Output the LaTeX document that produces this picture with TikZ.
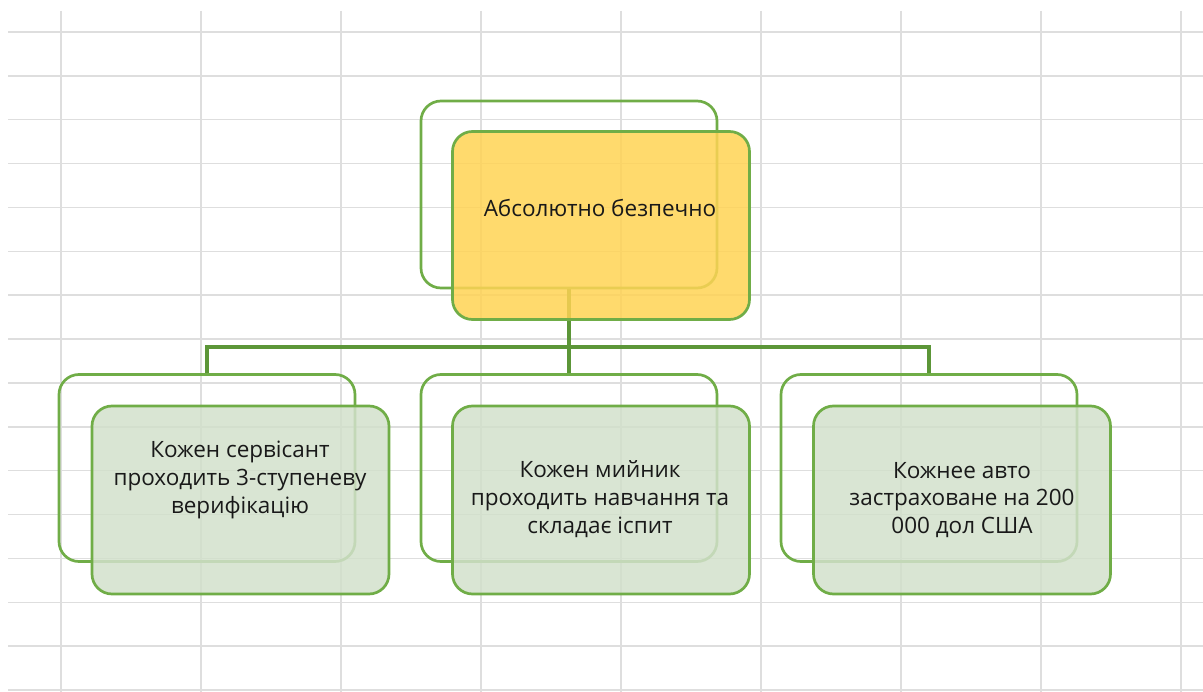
\documentclass[tikz,border=0pt]{standalone}
\usepackage{fontspec}
\setmainfont{Open Sans}
\definecolor{gridgray}{RGB}{222,222,222}
\definecolor{boxline}{RGB}{112,173,71}
\definecolor{linkline}{RGB}{92,150,56}
\definecolor{topfill}{RGB}{255,211,84}
\definecolor{leaffill}{RGB}{210,224,203}
\definecolor{inkgray}{RGB}{25,25,25}
\tikzset{
  backbox/.style={draw=boxline, line width=2.7pt, rounded corners=20pt,
    minimum width=296pt, minimum height=187pt, inner sep=0pt},
  frontbox/.style={backbox, fill opacity=0.85, minimum width=297pt, minimum height=188pt},
  topbox/.style={frontbox, fill=topfill},
  leafbox/.style={frontbox, fill=leaffill},
  caption/.style={text=inkgray, font=\fontsize{22.5pt}{27.8pt}\selectfont,
    align=center, inner sep=0pt},
  link/.style={draw=linkline, line width=3.3pt},
  gridline/.style={draw=gridgray, line width=1.5pt}
}
\begin{document}
\begin{tikzpicture}[x=1pt, y=-1pt]
\useasboundingbox (0,0) rectangle (1203,692);
% spreadsheet grid
\foreach \k in {0,...,8} \draw[gridline] (61+140*\k,11) -- (61+140*\k,692);
\foreach \k in {0,...,15} \draw[gridline] (8,32+43.87*\k) -- (1203,32+43.87*\k);
% back outlines
\node[backbox] (tb) at (569,194.5) {};
\node[backbox] (ab) at (207,468) {};
\node[backbox] (bb) at (569,468) {};
\node[backbox] (cb) at (929,468) {};
% connectors
\coordinate (bus) at (569,347);
\draw[link] (tb.south) -- (tb.south |- bus);
\draw[link] (ab.north) |- (bus) -| (cb.north);
\draw[link] (bus) -- (bb.north);
% front boxes
\node[topbox] (tf) at (601,225.5) {};
\node[leafbox] (af) at (240.5,500) {};
\node[leafbox] (bf) at (601,500) {};
\node[leafbox] (cf) at (962,500) {};
% captions
\node[caption] (tt) at (600,208) {Абсолютно безпечно};
\node[caption] (at) at (240,480) {Кожен сервісант\\проходить 3-ступеневу\\верифікацію};
\node[caption] (bt) at (600,499) {Кожен мийник\\проходить навчання та\\складає іспит};
\node[caption] (ct) at (962,500) {Кожнее авто\\застраховане на 200\\000 дол США};
\end{tikzpicture}
\end{document}
